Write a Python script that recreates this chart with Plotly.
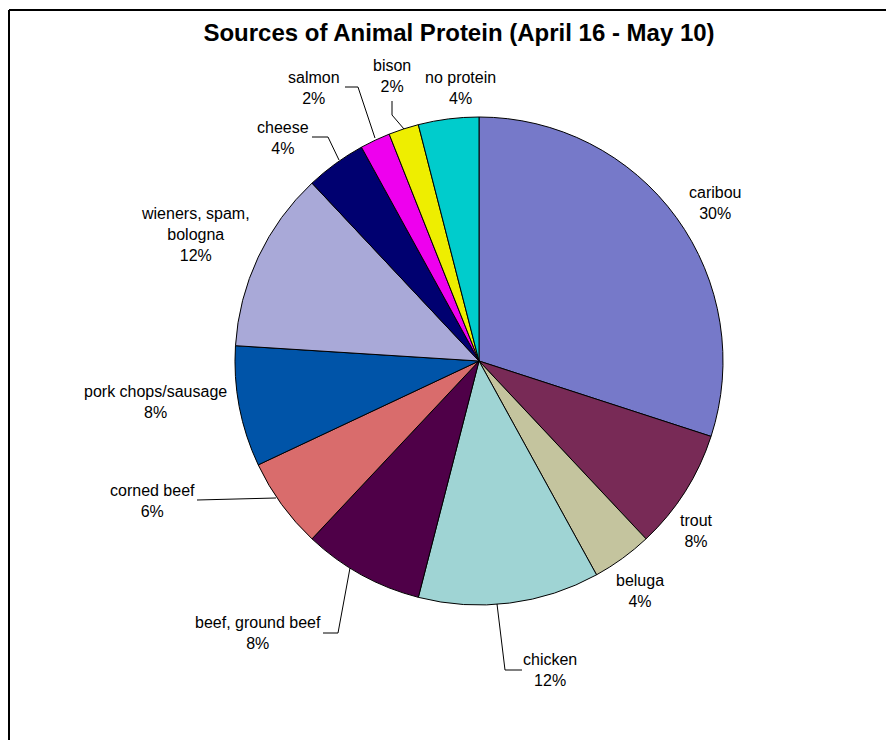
import plotly.graph_objects as go

labels = ["caribou", "trout", "beluga", "chicken", "beef, ground beef", "corned beef",
          "pork chops/sausage", "wieners, spam,<br>bologna", "cheese", "salmon", "bison", "no protein"]
counts = [15, 4, 2, 6, 4, 3, 4, 6, 2, 1, 1, 2]
colors = ["#7679c9", "#782a56", "#c4c49e", "#9fd4d4", "#4f0048", "#d96c6c",
          "#0054a8", "#a9a9d8", "#000070", "#ee00ee", "#eeee00", "#00cccc"]

W, H = 886, 740
# label centre positions in pixels (layout only)
label_pos = [(715, 203), (696, 531), (640, 591), (550, 670), (258, 633), (152, 501),
             (155, 402), (195, 234), (283, 138), (314, 88), (392, 76), (460, 88)]
# leader lines in pixels (layout only)
leaders = [
    [(345, 87), (358, 87), (375, 138)],
    [(392, 101), (392, 115), (404, 129)],
    [(312, 137), (328, 137), (339, 160)],
    [(197, 500), (276, 498)],
    [(323, 633), (338, 633), (350, 568)],
    [(522, 670), (505, 670), (497, 604)],
]

def px(x, y):
    return x / W, 1 - y / H

fig = go.Figure(go.Pie(
    labels=labels, values=counts, sort=False, direction="clockwise", rotation=0,
    marker=dict(colors=colors, line=dict(color="black", width=1)),
    textinfo="none", hoverinfo="label+percent",
    automargin=False, showlegend=False,
    domain=dict(x=[235 / W, 723 / W], y=[1 - 605 / H, 1 - 117 / H]),
))

total = sum(counts)
annotations = []
for lab, c, (x, y) in zip(labels, counts, label_pos):
    ax, ay = px(x, y)
    annotations.append(dict(
        text=f"{lab}<br>{round(100 * c / total)}%", x=ax, y=ay, xref="paper", yref="paper",
        xanchor="center", yanchor="middle", showarrow=False, align="center",
        font=dict(family="Arial, Liberation Sans", size=16, color="black")))

shapes = [
    dict(type="line", xref="paper", yref="paper", x0=9 / W, x1=1.01, y0=1 - 10 / H, y1=1 - 10 / H,
         line=dict(color="black", width=2)),
    dict(type="line", xref="paper", yref="paper", x0=9 / W, x1=9 / W, y0=1 - 10 / H, y1=-0.01,
         line=dict(color="black", width=2)),
]
for pts in leaders:
    path = "M " + " L ".join(f"{px(x, y)[0]:.5f},{px(x, y)[1]:.5f}" for x, y in pts)
    shapes.append(dict(type="path", xref="paper", yref="paper", path=path,
                       line=dict(color="black", width=1)))

fig.update_layout(
    width=W, height=H, margin=dict(l=0, r=0, t=0, b=0),
    paper_bgcolor="white",
    title=dict(text="<b>Sources of Animal Protein (April 16 - May 10)</b>",
               x=459 / W, xanchor="center", y=1 - 33 / H, yanchor="middle",
               font=dict(family="Arial, Liberation Sans", size=24, color="black")),
    shapes=shapes, annotations=annotations,
)

fig.write_html("out.html")
